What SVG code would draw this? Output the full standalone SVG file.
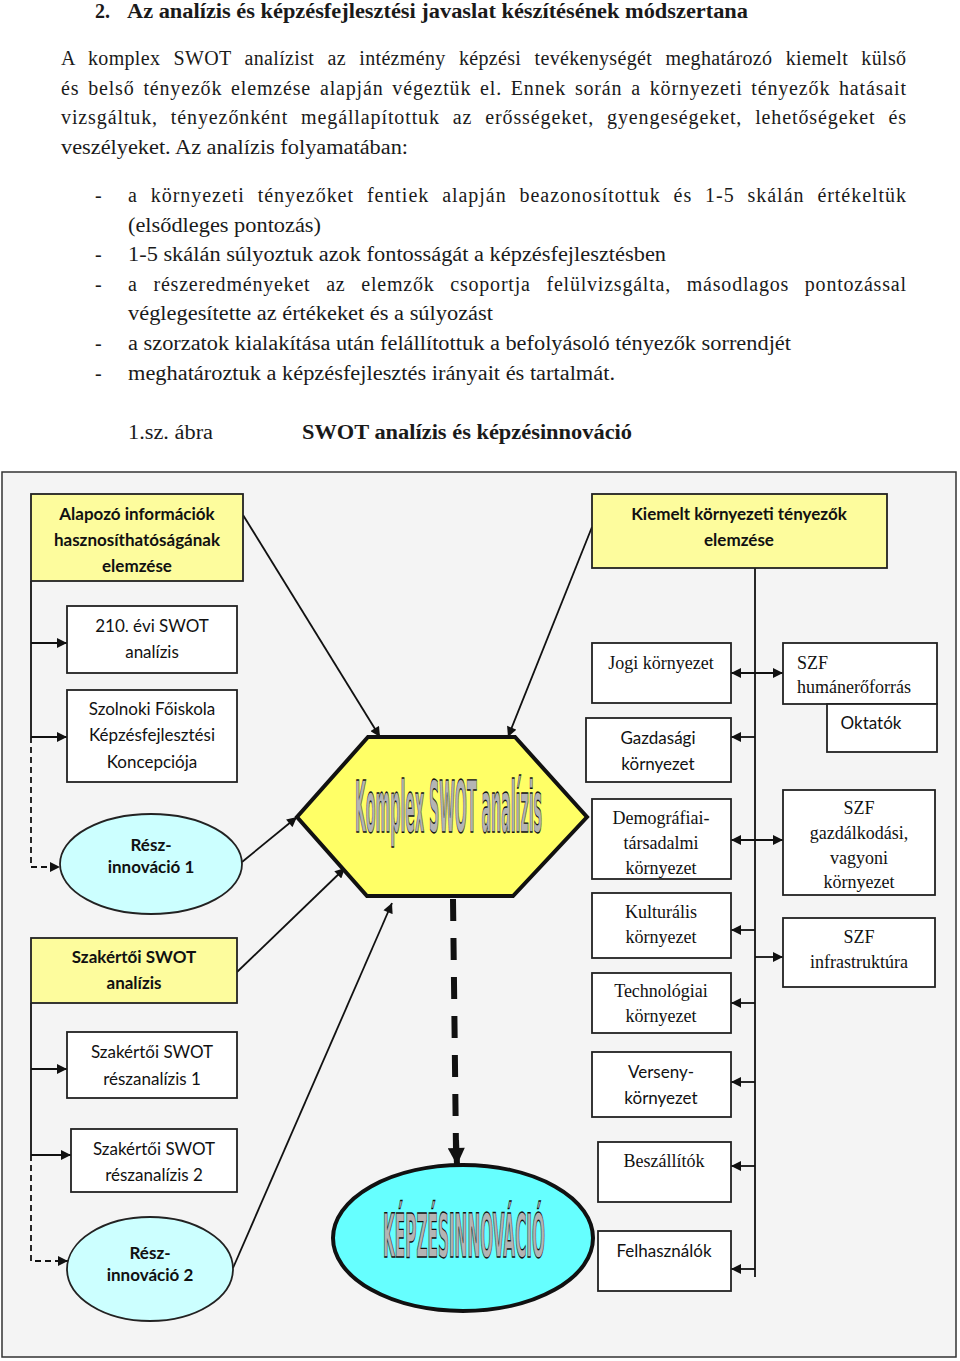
<svg xmlns="http://www.w3.org/2000/svg" width="960" height="1361" viewBox="0 0 960 1361">
<style>
.body{font-family:"Liberation Serif","Times New Roman",serif;font-size:20px;fill:#1a1a1a}
.bold{font-weight:bold}
.cal{font-family:Lato,"Open Sans",sans-serif;font-size:17px;fill:#111;text-anchor:middle}
.calb{font-family:Lato,"Open Sans",sans-serif;font-size:17px;font-weight:bold;fill:#111;text-anchor:middle}
.ser{font-family:"Liberation Serif","Times New Roman",serif;font-size:18px;fill:#111;text-anchor:middle}
.box{fill:#fff;stroke:#222;stroke-width:1.8}
.ybox{fill:#fdfc9d;stroke:#222;stroke-width:1.8}
.ell{fill:#ccffff;stroke:#222;stroke-width:1.8}
.ln{stroke:#111;stroke-width:1.8;fill:none}
.dash{stroke:#111;stroke-width:1.8;fill:none;stroke-dasharray:6 4}
.wa{font-family:"DejaVu Sans Condensed","DejaVu Sans",sans-serif;font-weight:bold;fill:#b4b4b4;stroke:#111;stroke-width:1;vector-effect:non-scaling-stroke}
</style>
<defs>
<marker id="ah" viewBox="0 0 10 10" refX="10" refY="5" markerWidth="11" markerHeight="10" markerUnits="userSpaceOnUse" orient="auto-start-reverse"><path d="M0,0 L10,5 L0,10 z" fill="#111"/></marker>
<marker id="ahb" viewBox="0 0 10 10" refX="10" refY="5" markerWidth="18" markerHeight="17" markerUnits="userSpaceOnUse" orient="auto"><path d="M0,0 L10,5 L0,10 z" fill="#111"/></marker>
</defs>

<!-- page text -->
<g id="text">
<text class="body bold" x="95" y="18">2.</text>
<text class="body bold" x="127" y="18" textLength="621" lengthAdjust="spacingAndGlyphs">Az analízis és képzésfejlesztési javaslat készítésének módszertana</text>
<text class="body" x="61" y="65" word-spacing="8" textLength="845" lengthAdjust="spacing">A komplex SWOT analízist az intézmény képzési tevékenységét meghatározó kiemelt külső</text>
<text class="body" x="61" y="95" word-spacing="3" textLength="845" lengthAdjust="spacing">és belső tényezők elemzése alapján végeztük el. Ennek során a környezeti tényezők hatásait</text>
<text class="body" x="61" y="124" word-spacing="7" textLength="845" lengthAdjust="spacing">vizsgáltuk, tényezőnként megállapítottuk az erősségeket, gyengeségeket, lehetőségeket és</text>
<text class="body" x="61" y="154" textLength="347" lengthAdjust="spacingAndGlyphs">veszélyeket. Az analízis folyamatában:</text>
<text class="body" x="95" y="202">-</text>
<text class="body" x="128" y="202" word-spacing="7" textLength="778" lengthAdjust="spacing">a környezeti tényezőket fentiek alapján beazonosítottuk és 1-5 skálán értékeltük</text>
<text class="body" x="128" y="232" textLength="193" lengthAdjust="spacingAndGlyphs">(elsődleges pontozás)</text>
<text class="body" x="95" y="261">-</text>
<text class="body" x="128" y="261" textLength="538" lengthAdjust="spacingAndGlyphs">1-5 skálán súlyoztuk azok fontosságát a képzésfejlesztésben</text>
<text class="body" x="95" y="291">-</text>
<text class="body" x="128" y="291" word-spacing="10" textLength="778" lengthAdjust="spacing">a részeredményeket az elemzők csoportja felülvizsgálta, másodlagos pontozással</text>
<text class="body" x="128" y="320" textLength="365" lengthAdjust="spacingAndGlyphs">véglegesítette az értékeket és a súlyozást</text>
<text class="body" x="95" y="350">-</text>
<text class="body" x="128" y="350" textLength="663" lengthAdjust="spacingAndGlyphs">a szorzatok kialakítása után felállítottuk a befolyásoló tényezők sorrendjét</text>
<text class="body" x="95" y="380">-</text>
<text class="body" x="128" y="380" textLength="487" lengthAdjust="spacingAndGlyphs">meghatároztuk a képzésfejlesztés irányait és tartalmát.</text>
<text class="body" x="128" y="439" textLength="85" lengthAdjust="spacingAndGlyphs">1.sz. ábra</text>
<text class="body bold" x="302" y="439" textLength="330" lengthAdjust="spacingAndGlyphs">SWOT analízis és képzésinnováció</text>
</g>

<!-- frame -->
<rect x="2" y="472" width="954" height="885" fill="#f4f4f4" stroke="#333" stroke-width="1.5"/>

<!-- connectors -->
<g id="connectors">
<line class="ln" x1="243" y1="515" x2="380" y2="737" marker-end="url(#ah)"/>
<line class="ln" x1="592" y1="527" x2="508" y2="737" marker-end="url(#ah)"/>
<polyline class="ln" points="31,581 31,737"/>
<line class="ln" x1="31" y1="643" x2="67" y2="643" marker-end="url(#ah)"/>
<line class="ln" x1="31" y1="737" x2="67" y2="737" marker-end="url(#ah)"/>
<polyline class="dash" points="31,737 31,867 60,867" marker-end="url(#ah)"/>
<line class="ln" x1="242" y1="862" x2="297" y2="817" marker-end="url(#ah)"/>
<line class="ln" x1="237" y1="972" x2="345" y2="868" marker-end="url(#ah)"/>
<line class="ln" x1="233" y1="1268" x2="392" y2="903" marker-end="url(#ah)"/>
<polyline class="ln" points="31,1003 31,1155"/>
<line class="ln" x1="31" y1="1069" x2="67" y2="1069" marker-end="url(#ah)"/>
<line class="ln" x1="31" y1="1155" x2="71" y2="1155" marker-end="url(#ah)"/>
<polyline class="dash" points="31,1155 31,1261 68,1261" marker-end="url(#ah)"/>
<line x1="453" y1="899" x2="456" y2="1150" stroke="#111" stroke-width="6" stroke-dasharray="22 17"/>
<line x1="456" y1="1140" x2="457" y2="1165" stroke="#111" stroke-width="6" marker-end="url(#ahb)"/>
<line class="ln" x1="755" y1="568" x2="755" y2="1277"/>
<line class="ln" x1="731" y1="673" x2="783" y2="673" marker-start="url(#ah)" marker-end="url(#ah)"/>
<line class="ln" x1="731" y1="840" x2="783" y2="840" marker-start="url(#ah)" marker-end="url(#ah)"/>
<line class="ln" x1="755" y1="737" x2="731" y2="737" marker-end="url(#ah)"/>
<line class="ln" x1="755" y1="930" x2="731" y2="930" marker-end="url(#ah)"/>
<line class="ln" x1="755" y1="957" x2="783" y2="957" marker-end="url(#ah)"/>
<line class="ln" x1="755" y1="1003" x2="731" y2="1003" marker-end="url(#ah)"/>
<line class="ln" x1="755" y1="1082" x2="731" y2="1082" marker-end="url(#ah)"/>
<line class="ln" x1="755" y1="1166" x2="731" y2="1166" marker-end="url(#ah)"/>
<line class="ln" x1="755" y1="1269" x2="731" y2="1269" marker-end="url(#ah)"/>
</g>

<!-- left nodes -->
<g id="alapozo">
<rect class="ybox" x="31" y="494" width="212" height="87"/>
<text class="calb" x="137" y="520">Alapozó információk</text>
<text class="calb" x="137" y="546">hasznosíthatóságának</text>
<text class="calb" x="137" y="572">elemzése</text>
</g>
<g id="swot210">
<rect class="box" x="67" y="606" width="170" height="67"/>
<text class="cal" x="152" y="632">210. évi SWOT</text>
<text class="cal" x="152" y="658">analízis</text>
</g>
<g id="szolnoki">
<rect class="box" x="67" y="690" width="170" height="92"/>
<text class="cal" x="152" y="715">Szolnoki Főiskola</text>
<text class="cal" x="152" y="741">Képzésfejlesztési</text>
<text class="cal" x="152" y="768">Koncepciója</text>
</g>
<g id="reszinnovacio1">
<ellipse class="ell" cx="151" cy="864" rx="91" ry="50"/>
<text class="calb" x="151" y="851">Rész-</text>
<text class="calb" x="151" y="873">innováció 1</text>
</g>
<g id="szakertoi">
<rect class="ybox" x="31" y="938" width="206" height="65"/>
<text class="calb" x="134" y="963">Szakértői SWOT</text>
<text class="calb" x="134" y="989">analízis</text>
</g>
<g id="reszanalizis1">
<rect class="box" x="67" y="1032" width="170" height="66"/>
<text class="cal" x="152" y="1058">Szakértői SWOT</text>
<text class="cal" x="152" y="1085">részanalízis 1</text>
</g>
<g id="reszanalizis2">
<rect class="box" x="71" y="1129" width="166" height="63"/>
<text class="cal" x="154" y="1155">Szakértői SWOT</text>
<text class="cal" x="154" y="1181">részanalízis 2</text>
</g>
<g id="reszinnovacio2">
<ellipse class="ell" cx="150" cy="1269" rx="83" ry="52"/>
<text class="calb" x="150" y="1259">Rész-</text>
<text class="calb" x="150" y="1281">innováció 2</text>
</g>

<!-- center nodes -->
<g id="komplex">
<polygon points="368,737 515,737 587,817 513,896 367,896 297,817" fill="#ffff66" stroke="#111" stroke-width="4" stroke-linejoin="miter"/>
<text class="wa" transform="translate(355,832) scale(1,4.5)" x="0" y="0" font-size="16" textLength="187" lengthAdjust="spacingAndGlyphs">Komplex SWOT analízis</text>
</g>
<g id="kepzesinnovacio">
<ellipse cx="463" cy="1238" rx="130" ry="73" fill="#66ffff" stroke="#111" stroke-width="4"/>
<text class="wa" transform="translate(383,1257) scale(1,4)" x="0" y="0" font-size="15" textLength="162" lengthAdjust="spacingAndGlyphs">KÉPZÉSINNOVÁCIÓ</text>
</g>

<!-- right nodes -->
<g id="kiemelt">
<rect class="ybox" x="592" y="494" width="295" height="74"/>
<text class="calb" x="739" y="520">Kiemelt környezeti tényezők</text>
<text class="calb" x="739" y="546">elemzése</text>
</g>
<g id="jogi">
<rect class="box" x="592" y="643" width="139" height="60"/>
<text class="ser" x="661" y="669">Jogi környezet</text>
</g>
<g id="szfhuman">
<rect class="box" x="783" y="643" width="154" height="61"/>
<text class="ser" x="797" y="669" style="text-anchor:start">SZF</text>
<text class="ser" x="797" y="693" style="text-anchor:start">humánerőforrás</text>
</g>
<g id="oktatok">
<rect class="box" x="827" y="704" width="110" height="48"/>
<text class="cal" x="871" y="729">Oktatók</text>
</g>
<g id="gazdasagi">
<rect class="box" x="586" y="718" width="145" height="64"/>
<text class="cal" x="658" y="744">Gazdasági</text>
<text class="cal" x="658" y="770">környezet</text>
</g>
<g id="demografiai">
<rect class="box" x="592" y="799" width="139" height="80"/>
<text class="ser" x="661" y="824">Demográfiai-</text>
<text class="ser" x="661" y="849">társadalmi</text>
<text class="ser" x="661" y="874">környezet</text>
</g>
<g id="szfgazd">
<rect class="box" x="783" y="790" width="152" height="105"/>
<text class="ser" x="859" y="814">SZF</text>
<text class="ser" x="859" y="839">gazdálkodási,</text>
<text class="ser" x="859" y="864">vagyoni</text>
<text class="ser" x="859" y="888">környezet</text>
</g>
<g id="kulturalis">
<rect class="box" x="592" y="893" width="139" height="65"/>
<text class="ser" x="661" y="918">Kulturális</text>
<text class="ser" x="661" y="943">környezet</text>
</g>
<g id="szfinfra">
<rect class="box" x="783" y="918" width="152" height="69"/>
<text class="ser" x="859" y="943">SZF</text>
<text class="ser" x="859" y="968">infrastruktúra</text>
</g>
<g id="technologiai">
<rect class="box" x="592" y="973" width="139" height="60"/>
<text class="ser" x="661" y="997">Technológiai</text>
<text class="ser" x="661" y="1022">környezet</text>
</g>
<g id="verseny">
<rect class="box" x="592" y="1052" width="139" height="65"/>
<text class="cal" x="661" y="1078">Verseny-</text>
<text class="cal" x="661" y="1104">környezet</text>
</g>
<g id="beszallitok">
<rect class="box" x="598" y="1142" width="133" height="60"/>
<text class="ser" x="664" y="1167">Beszállítók</text>
</g>
<g id="felhasznalok">
<rect class="box" x="598" y="1231" width="133" height="60"/>
<text class="cal" x="664" y="1257">Felhasználók</text>
</g>
</svg>
